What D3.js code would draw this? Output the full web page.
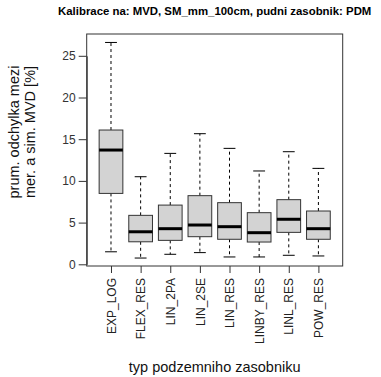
<!DOCTYPE html>
<html>
<head>
<meta charset="utf-8">
<script src="https://cdn.jsdelivr.net/npm/d3@7"></script>
<style>
  body { margin: 0; background: #fff; }
  svg { display: block; font-family: "Liberation Sans", Arial, sans-serif; }
</style>
</head>
<body>
<svg id="chart" width="381" height="377"></svg>
<script>
// Model categories and box statistics (deviation in %)
const categories = ["EXP_LOG", "FLEX_RES", "LIN_2PA", "LIN_2SE", "LIN_RES", "LINBY_RES", "LINL_RES", "POW_RES"];
const whiskerLow  = [1.5, 0.75, 1.2, 1.4, 0.88, 0.88, 1.08, 1.0];
const quartile1   = [8.5, 2.7, 2.87, 3.31, 3.0, 2.67, 3.83, 3.0];
const median      = [13.7, 3.9, 4.27, 4.71, 4.51, 3.79, 5.4, 4.27];
const quartile3   = [16.1, 5.87, 7.1, 8.23, 7.39, 6.19, 7.75, 6.39];
const whiskerHigh = [26.6, 10.5, 13.3, 15.66, 13.9, 11.19, 13.5, 11.5];
const yTicks = [0, 5, 10, 15, 20, 25];

const svg = d3.select("#chart");
const plot = { left: 86.7, right: 342.7, top: 34, bottom: 266 };

// Index positions 1..n with the usual 4% padding around 0.5..n+0.5
const n = categories.length;
const lo = 0.5, hi = n + 0.5, pad = (hi - lo) * 0.04;
const x = d3.scaleLinear().domain([lo - pad, hi + pad]).range([plot.left, plot.right]);
const y = d3.scaleLinear().domain([0, 25]).range([264.3, 55.8]);

const boxW = 0.8 * (x(2) - x(1));
const capW = boxW / 2;

const data = categories.map((c, i) => ({
  name: c, pos: i + 1,
  lo: whiskerLow[i], q1: quartile1[i], med: median[i], q3: quartile3[i], hi: whiskerHigh[i]
}));

// Title
svg.append("text")
  .attr("x", (plot.left + plot.right) / 2).attr("y", 15)
  .attr("text-anchor", "middle")
  .attr("font-size", 11.4).attr("font-weight", "bold")
  .text("Kalibrace na: MVD, SM_mm_100cm, pudni zasobnik: PDM");

const g = svg.append("g");

// Boxes
const box = g.selectAll("g.box").data(data).join("g").attr("class", "box");

box.append("line")
  .attr("x1", d => x(d.pos)).attr("x2", d => x(d.pos))
  .attr("y1", d => y(d.q3)).attr("y2", d => y(d.hi))
  .attr("stroke", "#000").attr("stroke-width", 1).attr("stroke-dasharray", "3,3");
box.append("line")
  .attr("x1", d => x(d.pos)).attr("x2", d => x(d.pos))
  .attr("y1", d => y(d.q1)).attr("y2", d => y(d.lo))
  .attr("stroke", "#000").attr("stroke-width", 1).attr("stroke-dasharray", "3,3");
box.append("line")
  .attr("x1", d => x(d.pos) - capW / 2).attr("x2", d => x(d.pos) + capW / 2)
  .attr("y1", d => y(d.hi)).attr("y2", d => y(d.hi))
  .attr("stroke", "#000").attr("stroke-width", 1);
box.append("line")
  .attr("x1", d => x(d.pos) - capW / 2).attr("x2", d => x(d.pos) + capW / 2)
  .attr("y1", d => y(d.lo)).attr("y2", d => y(d.lo))
  .attr("stroke", "#000").attr("stroke-width", 1);
box.append("rect")
  .attr("x", d => x(d.pos) - boxW / 2).attr("width", boxW)
  .attr("y", d => y(d.q3)).attr("height", d => y(d.q1) - y(d.q3))
  .attr("fill", "#d3d3d3").attr("stroke", "#333").attr("stroke-width", 1);
box.append("line")
  .attr("x1", d => x(d.pos) - boxW / 2).attr("x2", d => x(d.pos) + boxW / 2)
  .attr("y1", d => y(d.med)).attr("y2", d => y(d.med))
  .attr("stroke", "#000").attr("stroke-width", 3);

// Frame
svg.append("rect")
  .attr("x", plot.left).attr("y", plot.top)
  .attr("width", plot.right - plot.left).attr("height", plot.bottom - plot.top)
  .attr("fill", "none").attr("stroke", "#333").attr("stroke-width", 1);

// Y axis
const yAxis = svg.append("g")
  .attr("transform", `translate(${plot.left},0)`)
  .call(d3.axisLeft(y).tickValues(yTicks).tickSize(8).tickPadding(3).tickSizeOuter(0));
yAxis.select(".domain").attr("stroke", "#333");
yAxis.selectAll(".tick line").attr("stroke", "#333");
yAxis.selectAll("text").attr("font-size", 12).attr("fill", "#333").attr("font-family", null);

// X axis
const xAxis = svg.append("g")
  .attr("transform", `translate(0,${plot.bottom})`)
  .call(d3.axisBottom(x).tickValues(d3.range(1, n + 1)).tickFormat(i => categories[i - 1]).tickSize(7).tickSizeOuter(0));
xAxis.select(".domain").remove();
xAxis.selectAll(".tick line").attr("stroke", "#333");
xAxis.selectAll("text")
  .attr("font-size", 12).attr("fill", "#222").attr("font-family", null)
  .attr("transform", "rotate(-90)")
  .attr("text-anchor", "end")
  .attr("x", -12).attr("y", 0).attr("dy", "0.35em");

// Axis titles
const yl = svg.append("text")
  .attr("transform", "translate(0,132) rotate(-90)")
  .attr("text-anchor", "middle")
  .attr("font-size", 14.5).attr("fill", "#111");
yl.append("tspan").attr("x", 0).attr("y", 19).text("prum. odchylka mezi");
yl.append("tspan").attr("x", 0).attr("y", 35).text("mer. a sim. MVD [%]");

svg.append("text")
  .attr("x", (plot.left + plot.right) / 2).attr("y", 372)
  .attr("text-anchor", "middle")
  .attr("font-size", 14.5).attr("fill", "#111")
  .text("typ podzemniho zasobniku");
</script>
</body>
</html>
